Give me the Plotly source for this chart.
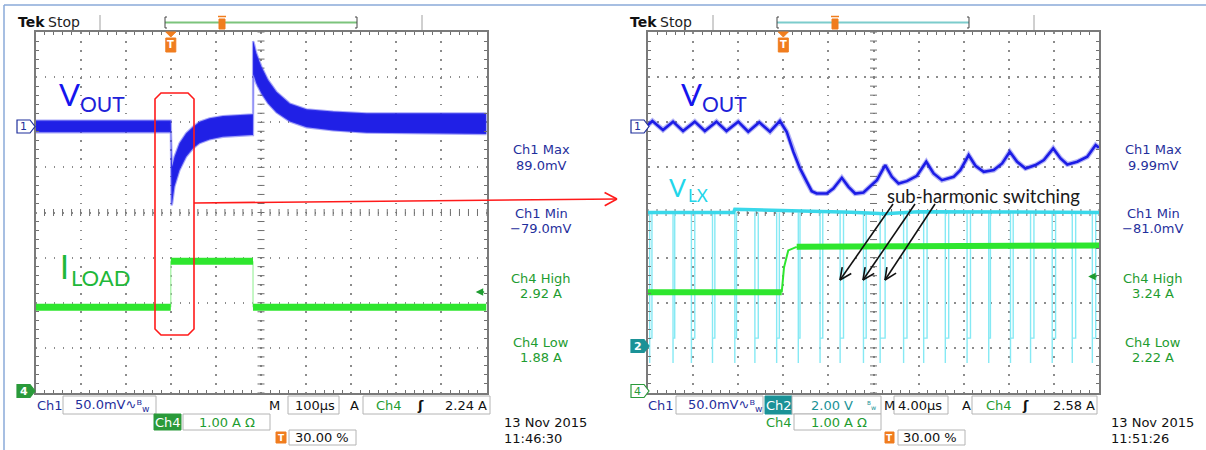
import numpy as np
import plotly.graph_objects as go

W, H = 1206, 450

# ============================ DATA ============================
# ---- Left capture: M 100 us/div, Ch1 50 mV/div, Ch4 1 A/div ----
L_TIME_RANGE = [-300, 700]           # us
L_VOUT_UP_T = [-300, 0, 1.5, 3.0, 8.2, 19.3, 34.1, 49.0, 63.8, 86.0, 115.6, 145.2, 178.6,
               182.3, 182.3, 183.8, 189.7, 200.9, 215.6, 234.2, 263.8, 300.9, 360, 434, 700]
L_VOUT_UP_MV = [6, 6, -30, -45, -34, -19, -8, -1, 4.8, 8.5, 11, 12, 13,
                13, 94, 92.6, 80.7, 66, 51, 38, 25, 18.5, 16, 14, 14]
L_VOUT_LO_T = [-300, 0, 1.5, 3.0, 8.2, 19.3, 34.1, 49.0, 63.8, 86.0, 115.6, 145.2, 178.6,
               182.3, 183.0, 189.7, 200.9, 215.6, 234.2, 263.8, 300.9, 360, 434, 700]
L_VOUT_LO_MV = [-7, -7, -88, -86, -67, -49, -34, -25, -19, -15, -12, -11, -10,
                -10, 57, 47, 36, 25, 15, 5, -1.5, -5, -7.5, -9]
L_ILOAD_T = [-300, 0, 0, 182.3, 182.3, 700]
L_ILOAD_A = [1.90, 1.90, 2.92, 2.92, 1.90, 1.90]
L_TRIG_LEVEL_A = 2.24
L_READOUT = [("Ch1 Max", "89.0mV"), ("Ch1 Min", "\u221279.0mV"),
             ("Ch4 High", "2.92 A"), ("Ch4 Low", "1.88 A")]

# ---- Right capture: M 4 us/div, Ch1 50 mV/div, Ch2 2 V/div, Ch4 1 A/div ----
R_TIME_RANGE = [-12, 28]             # us
R_VOUT_T = [-12.0, -11.61, -10.67, -9.78, -8.89, -7.85, -6.96, -5.93, -5.04, -4.00, -3.11,
            -2.13, -1.18, -0.30, 0.30, 0.89, 1.48, 2.07, 2.52, 2.96, 3.85, 4.44, 5.19, 5.78,
            6.37, 7.11, 7.70, 8.30, 9.04, 9.63, 10.22, 10.96, 11.85, 12.68, 13.33, 14.07,
            15.11, 15.70, 16.44, 17.04, 17.78, 18.67, 19.41, 20.09, 20.74, 21.48, 22.37,
            23.11, 23.94, 24.59, 25.19, 26.07, 26.96, 27.70, 28.0]
R_VOUT_MV = [1.0, 5.6, -4.4, 4.8, -5.6, 4.8, -5.6, 4.8, -5.6, 4.8, -6.3,
             4.1, -6.3, 5.6, -6.3, -28.5, -47.0, -61.9, -72.2, -74.8, -74.8, -69.3, -57.4, -67.4,
             -74.8, -73.7, -67.4, -60.0, -43.3, -56.3, -63.7, -61.1, -55.2, -39.6, -52.6, -60.0,
             -56.3, -48.9, -32.2, -44.1, -50.7, -48.9, -41.5, -28.5, -39.6, -47.0, -43.3,
             -37.8, -24.8, -35.9, -42.6, -39.6, -34.1, -21.1, -24.1]
R_ILOAD_LOW_T = [-12, -0.14]
R_ILOAD_LOW_A = [2.23, 2.23]
R_ILOAD_EDGE_T = [-0.14, 0.06, 0.44, 1.19]
R_ILOAD_EDGE_A = [2.23, 2.78, 3.16, 3.24]
R_ILOAD_HIGH_T = [1.19, 10, 28]
R_ILOAD_HIGH_A = [3.24, 3.24, 3.27]
R_LX_HIGH_T = [-12, -4.4, -4.3, 2.0, 6.0, 9.0, 12.0, 28]
R_LX_HIGH_V = [5.92, 5.92, 6.06, 6.0, 5.93, 5.86, 5.95, 5.92]
R_LX_PULSE_T = [-11.85, -9.78, -8.15, -6.28, -4.30, -2.52, -0.59, 1.33, 3.26, 5.04, 7.11,
                8.59, 10.67, 12.45, 14.37, 16.30, 18.22, 20.15, 21.93, 23.85, 25.63, 27.41]
R_LX_PULSE_W = [0.20, 0.15, 0.30, 0.21, 0.15, 0.30, 0.24, 0.15, 0.24, 0.30, 0.24,
                0.44, 0.30, 0.30, 0.30, 0.30, 0.15, 0.24, 0.30, 0.30, 0.30, 0.30]
R_LX_LOW_V = -0.75
R_LX_BLIP_V = 0.35
R_TRIG_LEVEL_A = 2.58
R_READOUT = [("Ch1 Max", "9.99mV"), ("Ch1 Min", "\u221281.0mV"),
             ("Ch4 High", "3.24 A"), ("Ch4 Low", "2.22 A")]

# ============================ GEOMETRY / STYLE ============================
GRID_TOP, GRID_BOT = 32.0, 393.0
L_X0, L_X1 = 35.5, 486.5
R_X0, R_X1 = 648.0, 1099.0
DIV = (GRID_BOT - GRID_TOP) / 8
CY = (GRID_TOP + GRID_BOT) / 2

def zdiv(py):
    return (CY - py) / DIV

def ch_range(per_div, zero_py):
    z = zdiv(zero_py)
    return [(-4 - z) * per_div, (4 - z) * per_div]

BLUE = "#1c1ce6"
NAVY = "#1f2f9c"
GREEN_T = "#1e9c30"
GREEN = "#2ee62e"
CYAN = "#3ad8ea"
TEAL = "#1b9297"
ORANGE = "#f07d1e"
RED = "#ff1a1a"
FONT = "DejaVu Sans, sans-serif"
LFONT = "Lato, Noto Sans, sans-serif"

def X(px):
    return px / W

def Y(py):
    return 1 - py / H

# ============================ TRACES ============================
fig = go.Figure()

# left Vout band
fig.add_trace(go.Scatter(
    x=L_VOUT_UP_T + L_VOUT_LO_T[::-1], y=L_VOUT_UP_MV + L_VOUT_LO_MV[::-1],
    fill="toself", fillcolor="#2020e6", mode="lines",
    line=dict(color="rgba(60,60,240,0.45)", width=2.2),
    xaxis="x", yaxis="y2", hoverinfo="skip"))

# left Iload: flat parts thick, edges thin
thick_x, thick_y, thin_x, thin_y = [], [], [], []
for i in range(len(L_ILOAD_T) - 1):
    if L_ILOAD_A[i] == L_ILOAD_A[i + 1]:
        thick_x += [L_ILOAD_T[i], L_ILOAD_T[i + 1], None]
        thick_y += [L_ILOAD_A[i], L_ILOAD_A[i + 1], None]
    else:
        thin_x += [L_ILOAD_T[i], L_ILOAD_T[i + 1], None]
        thin_y += [L_ILOAD_A[i], L_ILOAD_A[i + 1], None]
fig.add_trace(go.Scatter(x=thin_x, y=thin_y, mode="lines",
                         line=dict(color="#9ef29e", width=1.2),
                         xaxis="x", yaxis="y3", hoverinfo="skip"))
fig.add_trace(go.Scatter(x=thick_x, y=thick_y, mode="lines",
                         line=dict(color=GREEN, width=7),
                         xaxis="x", yaxis="y3", hoverinfo="skip"))

# right VLX pulses
px_, py_ = [], []
for tp, w in zip(R_LX_PULSE_T, R_LX_PULSE_W):
    hi = R_LX_HIGH_V[0]
    px_ += [tp, tp, tp, tp + w, tp + w, None]
    py_ += [hi, R_LX_LOW_V, R_LX_BLIP_V, R_LX_BLIP_V, hi, None]
fig.add_trace(go.Scatter(x=px_, y=py_, mode="lines",
                         line=dict(color="#86e9f4", width=1.4),
                         xaxis="x2", yaxis="y6", hoverinfo="skip"))
fig.add_trace(go.Scatter(x=R_LX_HIGH_T, y=R_LX_HIGH_V, mode="lines",
                         line=dict(color=CYAN, width=3.5),
                         xaxis="x2", yaxis="y6", hoverinfo="skip"))

# right Iload
fig.add_trace(go.Scatter(x=R_ILOAD_EDGE_T, y=R_ILOAD_EDGE_A, mode="lines",
                         line=dict(color=GREEN, width=2),
                         xaxis="x2", yaxis="y7", hoverinfo="skip"))
for tx, ty in [(R_ILOAD_LOW_T, R_ILOAD_LOW_A), (R_ILOAD_HIGH_T, R_ILOAD_HIGH_A)]:
    fig.add_trace(go.Scatter(x=tx, y=ty, mode="lines",
                             line=dict(color=GREEN, width=6),
                             xaxis="x2", yaxis="y7", hoverinfo="skip"))

# right Vout
fig.add_trace(go.Scatter(x=R_VOUT_T, y=R_VOUT_MV, mode="lines",
                         line=dict(color="rgba(40,40,230,0.35)", width=5),
                         xaxis="x2", yaxis="y5", hoverinfo="skip"))
fig.add_trace(go.Scatter(x=R_VOUT_T, y=R_VOUT_MV, mode="lines",
                         line=dict(color=BLUE, width=2.6),
                         xaxis="x2", yaxis="y5", hoverinfo="skip"))

# center crosshair ticks (grid decoration)
for xa, ya, rng in [("x", "y", L_TIME_RANGE), ("x2", "y4", R_TIME_RANGE)]:
    step = (rng[1] - rng[0]) / 50
    xs = np.arange(rng[0], rng[1] + step / 2, step)
    ys = np.arange(-4, 4.001, 0.2)
    cx = (rng[0] + rng[1]) / 2
    fig.add_trace(go.Scatter(x=xs, y=np.zeros_like(xs), mode="markers",
                             marker=dict(symbol="line-ns", size=5, line=dict(width=1, color="#707070")),
                             xaxis=xa, yaxis=ya, hoverinfo="skip"))
    fig.add_trace(go.Scatter(x=np.full_like(ys, cx), y=ys, mode="markers",
                             marker=dict(symbol="line-ew", size=5, line=dict(width=1, color="#707070")),
                             xaxis=xa, yaxis=ya, hoverinfo="skip"))

# ============================ AXES ============================
def time_axis(rng, x0, x1, anchor):
    d = (rng[1] - rng[0]) / 10
    return dict(domain=[X(x0), X(x1)], range=rng, anchor=anchor, dtick=d, tick0=rng[0],
                showgrid=True, gridcolor="#8c8c8c", gridwidth=1.5, griddash="1.5px,7.5px",
                zeroline=False, showline=True, linecolor="#7a7a7a", linewidth=2,
                mirror="allticks", ticks="", showticklabels=False, fixedrange=True,
                minor=dict(ticks="inside", dtick=d / 5, tick0=rng[0], ticklen=3,
                           tickcolor="#707070", tickwidth=1, showgrid=False))

def grid_y(anchor):
    return dict(domain=[Y(GRID_BOT), Y(GRID_TOP)], range=[-4, 4], anchor=anchor, dtick=1,
                tick0=-4, showgrid=True, gridcolor="#8c8c8c", gridwidth=1.5,
                griddash="1.5px,7.5px", zeroline=False, showline=True, linecolor="#7a7a7a",
                linewidth=2, mirror="allticks", ticks="", showticklabels=False, fixedrange=True,
                minor=dict(ticks="inside", dtick=0.2, tick0=-4, ticklen=3,
                           tickcolor="#707070", tickwidth=1, showgrid=False))

def ovl(base, anchor, rng):
    return dict(overlaying=base, anchor=anchor, range=rng, visible=False, fixedrange=True)

layout = dict(
    width=W, height=H, margin=dict(l=0, r=0, t=0, b=0),
    paper_bgcolor="white", plot_bgcolor="white", showlegend=False,
    xaxis=time_axis(L_TIME_RANGE, L_X0, L_X1, "y"),
    yaxis=grid_y("x"),
    yaxis2=ovl("y", "x", ch_range(50, 126)),
    yaxis3=ovl("y", "x", ch_range(1, GRID_BOT)),
    xaxis2=time_axis(R_TIME_RANGE, R_X0, R_X1, "y4"),
    yaxis4=grid_y("x2"),
    yaxis5=ovl("y4", "x2", ch_range(50, 126)),
    yaxis6=ovl("y4", "x2", ch_range(2, 346)),
    yaxis7=ovl("y4", "x2", ch_range(1, GRID_BOT)),
)

# ============================ SHAPES / TEXT ============================
shapes, anns = [], []

def sline(x0, y0, x1, y1, color, w=1.0):
    shapes.append(dict(type="line", xref="paper", yref="paper", x0=X(x0), y0=Y(y0),
                       x1=X(x1), y1=Y(y1), line=dict(color=color, width=w)))

def srect(x0, y0, x1, y1, line="#b4b4b4", fill="white", w=1.0):
    shapes.append(dict(type="rect", xref="paper", yref="paper", x0=X(x0), y0=Y(y0),
                       x1=X(x1), y1=Y(y1), line=dict(color=line, width=w), fillcolor=fill))

def spath(pts, color, fill=None, w=1.0, close=True):
    d = "M " + " L ".join(f"{X(a):.5f},{Y(b):.5f}" for a, b in pts) + (" Z" if close else "")
    s = dict(type="path", xref="paper", yref="paper", path=d, line=dict(color=color, width=w))
    if fill:
        s["fillcolor"] = fill
    shapes.append(s)

def txt(text, x, y, size=13, color="#111", xa="left", ya="middle", family=FONT, bold=False):
    if bold:
        text = f"<b>{text}</b>"
    anns.append(dict(text=text, x=X(x), y=Y(y), xref="paper", yref="paper", xanchor=xa,
                     yanchor=ya, showarrow=False, borderpad=0,
                     font=dict(size=size, color=color, family=family)))

def arrow(x0, y0, x1, y1, color, w=1.5, head=12, ang=25):
    sline(x0, y0, x1, y1, color, w)
    a = np.arctan2(y0 - y1, x0 - x1)
    for s in (-1, 1):
        b = a + s * np.radians(ang)
        sline(x1, y1, x1 + head * np.cos(b), y1 + head * np.sin(b), color, w)

# outer frame
sline(4, 5, W, 5, "#8aaad8", 1.5)
sline(4, 5, 4, H, "#8aaad8", 1.5)

for (gx0, gx1, bar_col, bar_x0, bar_x1, tmark, sep1, sep2) in [
        (L_X0, L_X1, "#7cc47c", 165, 357, 222, 100, 422),
        (R_X0, R_X1, "#7ccccc", 777, 969, 835, 713, 1034)]:
    # header
    txt("Tek", gx0 - 19, 22, size=14, color="#111", bold=True)
    txt("Stop", gx0 + 11, 22, size=14, color="#222")
    sline(sep1, 15, sep1, 30, "#a0a0a0", 1)
    sline(sep2, 15, sep2, 30, "#a0a0a0", 1)
    sline(bar_x0, 22.5, bar_x1, 22.5, bar_col, 2.2)
    spath([(bar_x0 + 2, 17), (bar_x0, 17), (bar_x0, 28), (bar_x0 + 2, 28)], "#444", w=1, close=False)
    spath([(bar_x1 - 2, 17), (bar_x1, 17), (bar_x1, 28), (bar_x1 - 2, 28)], "#444", w=1, close=False)
    sline(tmark - 4, 16.5, tmark + 4, 16.5, ORANGE, 1.5)
    srect(tmark - 3, 19, tmark + 3, 29, line=ORANGE, fill=ORANGE)
    # trigger marker on grid top
    tx = gx0 + 0.3 * (gx1 - gx0)
    spath([(tx - 5, 32), (tx + 5, 32), (tx, 37)], ORANGE, fill=ORANGE)
    srect(tx - 5, 38, tx + 5, 52, line=ORANGE, fill=ORANGE)
    txt("T", tx, 45, size=10, color="white", xa="center", bold=True)

def chan_marker(xl, xr, yc, label, edge, fill, tcol):
    spath([(xl, yc - 6.5), (xr - 5, yc - 6.5), (xr, yc), (xr - 5, yc + 6.5), (xl, yc + 6.5)],
          edge, fill=fill, w=1.2)
    txt(label, (xl + xr - 5) / 2, yc, size=11, color=tcol, xa="center", bold=(fill != "white"))

chan_marker(17, 35, 126.5, "1", NAVY, "white", NAVY)
chan_marker(17, 35, 391, "4", "#2a9a3a", "#2a9a3a", "white")
chan_marker(631, 649, 126.5, "1", NAVY, "white", NAVY)
chan_marker(631, 649, 346, "2", TEAL, TEAL, "white")
chan_marker(631, 649, 391, "4", "#2a9a3a", "white", "#2a9a3a")

# readouts
for cx, rd in [(541, L_READOUT), (1153, R_READOUT)]:
    for i, (a, b) in enumerate(rd):
        col = NAVY if a.startswith("Ch1") else GREEN_T
        yy = 150 + 64 * i
        txt(a, cx, yy, size=13, color=col, xa="center")
        txt(b, cx, yy + 15, size=13, color=col, xa="center")

# trigger level arrows
anns.append(dict(x=L_TIME_RANGE[1] - 24, y=L_TRIG_LEVEL_A, xref="x", yref="y3", ax=10, ay=0,
                 text="", showarrow=True, arrowhead=2, arrowsize=1, arrowwidth=1.5,
                 arrowcolor=GREEN_T))
anns.append(dict(x=R_TIME_RANGE[1] - 0.96, y=R_TRIG_LEVEL_A, xref="x2", yref="y7", ax=10, ay=0,
                 text="", showarrow=True, arrowhead=2, arrowsize=1, arrowwidth=1.5,
                 arrowcolor=GREEN_T))

# bottom status (left)
txt("Ch1", 36, 405, color=NAVY)
srect(63, 396, 156, 414)
txt("50.0mV\u223f\u1d2e<sub>w</sub>", 74, 405, color=NAVY)
txt("M", 268, 405)
srect(288, 396, 339, 414)
txt("100\u00b5s", 294, 405)
txt("A", 349, 405)
srect(363, 396, 490, 414)
txt("Ch4", 375, 405, color=GREEN_T)
txt("\u0283", 416, 405, bold=True)
txt("2.24 A", 488, 405, xa="right")
srect(154, 414, 181, 430, line="#2a9a3a", fill="#2a9a3a")
txt("Ch4", 167.5, 422, color="white", xa="center")
srect(183, 414, 270, 430)
txt("1.00 A \u03a9", 198, 422, color=GREEN_T)
srect(276, 432, 286, 443, line=ORANGE, fill=ORANGE)
txt("T", 281, 437.5, size=9, color="white", xa="center", bold=True)
srect(289, 430, 356, 445)
txt("30.00 %", 294, 437.5)
txt("13 Nov 2015", 503, 422)
txt("11:46:30", 503, 438)

# bottom status (right)
txt("Ch1", 647, 405, color=NAVY)
srect(676, 396, 763, 414)
txt("50.0mV\u223f\u1d2e<sub>w</sub>", 687, 405, color=NAVY)
srect(765, 396, 792, 414, line=TEAL, fill=TEAL)
txt("Ch2", 778.5, 405, color="white", xa="center")
srect(792, 396, 881, 414)
txt("2.00 V", 810, 405, color=TEAL)
txt("\u1d2e<sub>w</sub>", 866, 405, size=9, color=TEAL)
txt("M", 883, 405)
srect(894, 396, 948, 414)
txt("4.00\u00b5s", 897, 405)
txt("A", 961, 405)
srect(972, 396, 1097, 414)
txt("Ch4", 985, 405, color=GREEN_T)
txt("\u0283", 1021, 405, bold=True)
txt("2.58 A", 1096, 405, xa="right")
txt("Ch4", 765, 422, color=GREEN_T)
srect(794, 414, 881, 430)
txt("1.00 A \u03a9", 810, 422, color=GREEN_T)
srect(885, 432, 894, 443, line=ORANGE, fill=ORANGE)
txt("T", 889.5, 437.5, size=9, color="white", xa="center", bold=True)
srect(898, 430, 965, 445)
txt("30.00 %", 902, 437.5)
txt("13 Nov 2015", 1110, 422)
txt("11:51:26", 1110, 438)

# signal labels
txt("V", 69, 94, size=31, color="#1515ee", xa="center", family=LFONT)
txt("OUT", 79, 104, size=21, color="#2020d8", family=LFONT)
txt("V", 691, 94, size=31, color="#1515ee", xa="center", family=LFONT)
txt("OUT", 701, 104, size=21, color="#2020d8", family=LFONT)
txt("I", 64.5, 266, size=32, color="#1fb83a", xa="center", family=LFONT)
txt("LOAD", 70, 277, size=22, color="#1fb83a", family=LFONT)
txt("V", 677, 187, size=25, color="#22d6ea", xa="center", family=LFONT)
txt("LX", 687, 195, size=17, color="#22d6ea", family=LFONT)
txt("sub-harmonic switching", 886, 196, size=18.5, color="#1a1a1a", family=LFONT)

# red annotation box + arrow
r = 6
spath([(155 + r, 93), (194 - r, 93), (194, 93 + r), (194, 335 - r), (194 - r, 335),
       (155 + r, 335), (155, 335 - r), (155, 93 + r)], RED, w=1.6)
arrow(194, 203, 617, 199, RED, w=1.6, head=14, ang=28)

# black arrows
for (ax0, ay0, ax1, ay1) in [(893, 204, 840, 280), (915, 204, 863, 280), (935, 204, 885, 280)]:
    arrow(ax0, ay0, ax1, ay1, "#111", w=1.6, head=13, ang=25)

layout["shapes"] = shapes
layout["annotations"] = anns
fig.update_layout(**layout)
fig.write_html("out.html", config={"displayModeBar": False},
               post_script="document.body.style.margin='0';document.body.style.overflow='hidden';")
